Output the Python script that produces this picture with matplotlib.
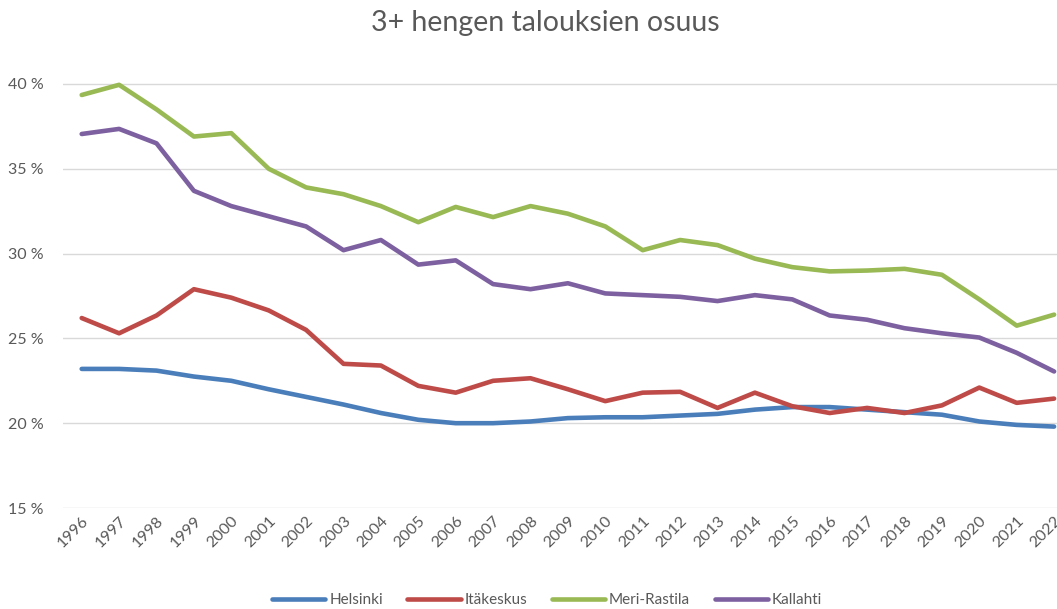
import matplotlib
matplotlib.use('Agg')
import matplotlib.pyplot as plt
from matplotlib.ticker import FuncFormatter

years = list(range(1996, 2023))

helsinki = [23.2, 23.2, 23.1, 22.75, 22.5, 22.0, 21.55, 21.1, 20.6, 20.2, 20.0, 20.0, 20.1,
            20.3, 20.35, 20.35, 20.45, 20.55, 20.8, 20.95, 20.95, 20.8, 20.65, 20.5, 20.1, 19.9, 19.8]
itakeskus = [26.2, 25.3, 26.35, 27.9, 27.4, 26.65, 25.5, 23.5, 23.4, 22.2, 21.8, 22.5, 22.65,
             22.0, 21.3, 21.8, 21.85, 20.9, 21.8, 21.0, 20.6, 20.9, 20.6, 21.05, 22.1, 21.2, 21.45]
meri_rastila = [39.35, 39.95, 38.5, 36.9, 37.1, 35.0, 33.9, 33.5, 32.8, 31.85, 32.75, 32.15, 32.8,
                32.35, 31.6, 30.2, 30.8, 30.5, 29.7, 29.2, 28.95, 29.0, 29.1, 28.75, 27.3, 25.75, 26.4]
kallahti = [37.05, 37.35, 36.5, 33.7, 32.8, 32.2, 31.6, 30.2, 30.8, 29.35, 29.6, 28.2, 27.9,
            28.25, 27.65, 27.55, 27.45, 27.2, 27.55, 27.3, 26.35, 26.1, 25.6, 25.3, 25.05, 24.15, 23.05]

series = [
    ('Helsinki', helsinki, '#4A7EBB'),
    ('Itäkeskus', itakeskus, '#BE4B48'),
    ('Meri-Rastila', meri_rastila, '#98B954'),
    ('Kallahti', kallahti, '#7D60A0'),
]

plt.rcParams['font.family'] = ['Lato', 'DejaVu Sans']
grey = '#595959'

fig = plt.figure(figsize=(10.57, 6.09), dpi=100)
W, H = 1057, 609
left, bottom, top = 63, 508, 67
ax = fig.add_axes([left / W, (H - bottom) / H, (W - left) / W, (bottom - top) / H])

for name, vals, col in series:
    ax.plot(years, vals, color=col, lw=3.3, label=name, solid_capstyle='round', solid_joinstyle='round')

ax.set_xlim(1995.5, 1995.5 + (W - left) / 37.4)
ax.set_ylim(15, 41)
ax.set_yticks([15, 20, 25, 30, 35, 40])
ax.yaxis.set_major_formatter(FuncFormatter(lambda v, p: '%d %%' % v))
ax.set_xticks(years)
ax.set_xticklabels([str(y) for y in years], rotation=45, ha='right', rotation_mode='anchor')
ax.grid(axis='y', color='#D9D9D9', lw=1)
ax.set_axisbelow(True)
for s in ax.spines.values():
    s.set_visible(False)
ax.tick_params(length=0, colors=grey, labelsize=11.5)
ax.tick_params(axis='y', pad=14)
ax.tick_params(axis='x', pad=4)

fig.text(0.516, 0.962, '3+ hengen talouksien osuus', ha='center', va='center',
         fontsize=20.5, color=grey)

leg = fig.legend(loc='center', bbox_to_anchor=(0.5175, 0.015), ncol=4, frameon=False,
                 fontsize=11, handlelength=3.5, handletextpad=0.25, columnspacing=1.6)
for t in leg.get_texts():
    t.set_color(grey)

fig.savefig('out.png', dpi=100)
